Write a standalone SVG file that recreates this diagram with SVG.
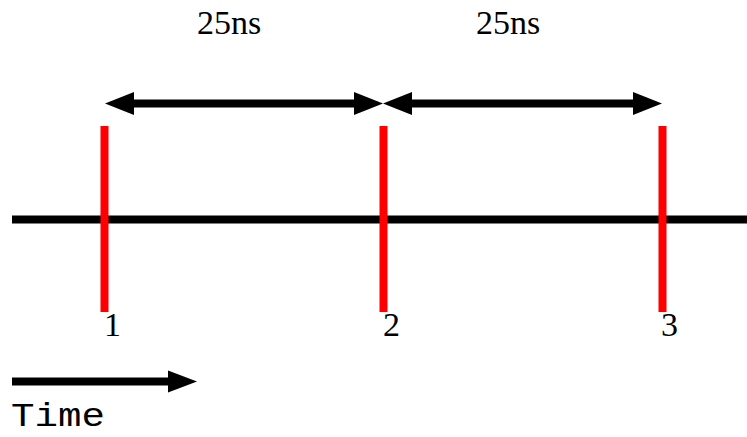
<svg xmlns="http://www.w3.org/2000/svg" width="747" height="437" viewBox="0 0 747 437">
  <style>
    .shaft { stroke: #000; stroke-width: 8; fill: none; }
    .head { fill: #000; }
    .tick { stroke: #ff0000; stroke-width: 8; }
    .axis { stroke: #000; stroke-width: 8; }
    .serif { font-family: "Liberation Serif", "Times New Roman", serif; font-size: 34px; fill: #000; }
    .mono { font-family: "Liberation Mono", "Courier New", monospace; font-size: 33px; fill: #000; }
  </style>

  <!-- time axis -->
  <g id="axis">
    <line class="axis" x1="12" y1="219.5" x2="747" y2="219.5"/>
  </g>

  <!-- clock edges -->
  <g id="edge1">
    <line class="tick" x1="104.5" y1="126" x2="104.5" y2="312"/>
    <text class="serif" x="104" y="336">1</text>
  </g>
  <g id="edge2">
    <line class="tick" x1="383.5" y1="126" x2="383.5" y2="312"/>
    <text class="serif" x="383" y="336">2</text>
  </g>
  <g id="edge3">
    <line class="tick" x1="662.5" y1="126" x2="662.5" y2="312"/>
    <text class="serif" x="661" y="336">3</text>
  </g>

  <!-- period labels -->
  <g id="period1-label">
    <text class="serif" x="197" y="34">25ns</text>
  </g>
  <g id="period2-label">
    <text class="serif" x="476" y="34">25ns</text>
  </g>

  <!-- period spans and time direction -->
  <g id="connectors">
    <line class="shaft" x1="133" y1="103.5" x2="355" y2="103.5"/>
    <polygon class="head" points="105,103.5 134,92 134,115"/>
    <polygon class="head" points="383,103.5 354,92 354,115"/>

    <line class="shaft" x1="411" y1="103.5" x2="634" y2="103.5"/>
    <polygon class="head" points="383,103.5 412,92 412,115"/>
    <polygon class="head" points="662,103.5 633,92 633,115"/>

    <line class="shaft" x1="12" y1="381.5" x2="169" y2="381.5"/>
    <polygon class="head" points="197,381.5 168,370.5 168,392.5"/>
  </g>

  <g id="time-label">
    <text class="mono" x="11" y="426" textLength="94" lengthAdjust="spacingAndGlyphs">Time</text>
  </g>
</svg>
